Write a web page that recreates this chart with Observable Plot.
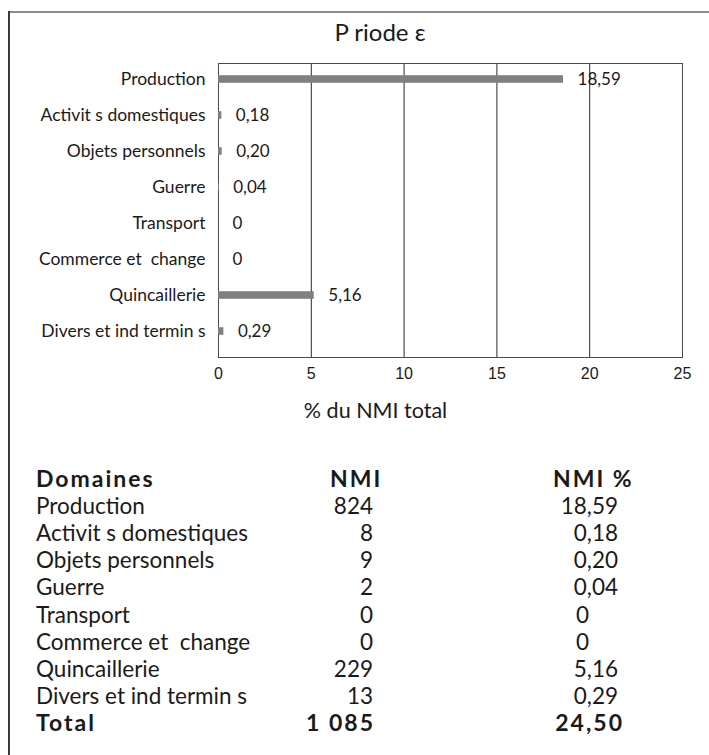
<!DOCTYPE html>
<html>
<head>
<meta charset="utf-8">
<script src="https://cdn.jsdelivr.net/npm/d3@7"></script>
<script src="https://cdn.jsdelivr.net/npm/@observablehq/plot@0.6"></script>
<style>
  html, body { margin: 0; padding: 0; background: #fff; }
  #page { position: relative; width: 709px; height: 755px; background: #fff; overflow: hidden; }
  #topBorder { position: absolute; left: 9px; top: 11px; width: 700px; height: 2px; background: #8c8c8c; }
  #leftBorder { position: absolute; left: 8px; top: 11px; width: 2px; height: 744px; background: #3a3a3a; }
  #title { position: absolute; left: 0; top: 19px; width: 760px; text-align: center;
           font-family: Lato, sans-serif; font-size: 24px; line-height: 26px; color: #1a1a1a; white-space: pre; }
  #chart { position: absolute; left: 0; top: 0; }
  #table { position: absolute; left: 0; top: 455px; }
  text { white-space: pre; }
</style>
</head>
<body>
<div id="page">
  <div id="topBorder"></div>
  <div id="leftBorder"></div>
  <div id="title"></div>
  <div id="chart"></div>
  <div id="table"></div>
</div>
<script>
// Domains and their minimum number of individuals (NMI)
const titleText = "P riode \u03B5";
const categories = ["Production", "Activit s domestiques", "Objets personnels", "Guerre",
                    "Transport", "Commerce et  change", "Quincaillerie", "Divers et ind termin s"];
const nmi = [824, 8, 9, 2, 0, 0, 229, 13];
const nmiPct = [18.59, 0.18, 0.20, 0.04, 0, 0, 5.16, 0.29];
const totalNmi = "1 085";
const totalPct = 24.50;
const xTicks = [0, 5, 10, 15, 20, 25];
const xLabel = "% du NMI total";
const headers = ["Domaines", "NMI", "NMI %"];
const totalLabel = "Total";

const fmtPct = v => v === 0 ? "0" : v.toFixed(2).replace(".", ",");
const rows = categories.map((name, i) => ({name, nmi: nmi[i], pct: nmiPct[i]}));

document.getElementById("title").textContent = titleText;

const ink = "#1a1a1a";
const chart = Plot.plot({
  width: 709,
  height: 440,
  marginLeft: 218,
  marginRight: 27,
  marginTop: 63,
  marginBottom: 83,
  style: {background: "transparent", color: ink, overflow: "visible"},
  x: {domain: [0, 25]},
  y: {domain: categories, range: [58, 352], padding: 0},
  marks: [
    Plot.gridX(xTicks.slice(1, -1), {stroke: "#2a2a2a", strokeOpacity: 1, strokeWidth: 1}),
    Plot.frame({stroke: "#4a4a4a", strokeWidth: 1}),
    Plot.barX(rows, {x: "pct", y: "name", fill: "#808080", insetTop: 14.2, insetBottom: 14.2}),
    Plot.text(rows, {x: "pct", y: "name", text: d => fmtPct(d.pct), textAnchor: "start", dx: 14,
      fontFamily: "Lato, sans-serif", fontSize: 17, fill: ink}),
    Plot.axisX(xTicks, {tickSize: 0, tickPadding: 10, label: null,
      fontFamily: "'Liberation Sans', Arial, sans-serif", fontSize: 16, fill: ink}),
    Plot.axisY({tickSize: 0, tickPadding: 13, label: null,
      fontFamily: "Lato, sans-serif", fontSize: 17.5, fill: ink}),
    Plot.text([xLabel], {frameAnchor: "bottom", dx: -75, dy: 54, lineAnchor: "middle",
      fontFamily: "Lato, sans-serif", fontSize: 21.5, fill: ink})
  ]
});
document.getElementById("chart").appendChild(chart);

// Summary table under the chart
const tw = 709, th = 300;
const svg = d3.create("svg").attr("width", tw).attr("height", th)
  .style("font-family", "Lato, sans-serif").style("fill", ink);
const rowY = d3.scalePoint().domain(d3.range(categories.length + 2)).range([32, 276]);
const colName = 36, colNmiEnd = 373, colNmiHead = 330, colPctHead = 553, colDec = 589, colDecEnd = 618;
const bodySize = 22.5, headSize = 23, headSpacing = 2;

const g = svg.append("g").attr("fill", ink);
const bold = (x, y, s, anchor = "start") =>
  g.append("text").attr("x", x).attr("y", y).attr("font-size", headSize).attr("font-weight", 700)
    .attr("letter-spacing", headSpacing).attr("text-anchor", anchor).text(s);
// header
bold(colName, rowY(0), headers[0]);
bold(colNmiHead, rowY(0), headers[1]);
bold(colPctHead, rowY(0), headers[2]);
// body
rows.forEach((r, i) => {
  const y = rowY(i + 1);
  g.append("text").attr("x", colName).attr("y", y).attr("font-size", bodySize).text(r.name);
  g.append("text").attr("x", colNmiEnd).attr("y", y).attr("font-size", bodySize).attr("text-anchor", "end").text(String(r.nmi));
  g.append("text").attr("x", r.pct === 0 ? colDec : colDecEnd).attr("y", y).attr("font-size", bodySize)
    .attr("text-anchor", "end").text(fmtPct(r.pct));
});
// total
const yT = rowY(categories.length + 1);
bold(colName, yT, totalLabel);
bold(colNmiEnd + headSpacing, yT, totalNmi, "end");
bold(colDecEnd + 4 + headSpacing, yT, fmtPct(totalPct), "end");
document.getElementById("table").appendChild(svg.node());
</script>
</body>
</html>
